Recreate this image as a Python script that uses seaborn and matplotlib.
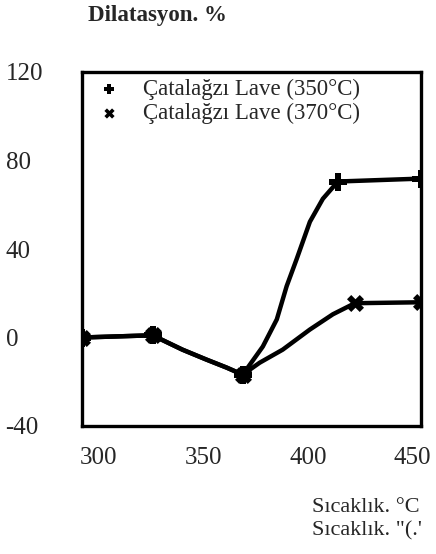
# -*- coding: utf-8 -*-
# Dilatasyon vs sicaklik, Catalagzi lave (350 / 370 C)

import pandas as pd
import matplotlib
matplotlib.use("Agg")
import matplotlib.pyplot as plt
import seaborn as sns

# traced curve points
temp_350 = [292.1, 325.7, 340.0, 351.5, 361.1, 368.8, 378.4, 385.1, 389.8,
            394.6, 400.9, 407.1, 414.3, 453.5]
dil_350 = [0.0, 1.0, -5.5, -10.0, -13.6, -16.8, -4.1, 8.2, 23.2,
           35.5, 52.3, 62.7, 70.5, 71.8]

temp_370 = [292.1, 325.7, 340.0, 351.5, 361.1, 368.8, 376.9, 387.9, 400.9,
            411.9, 422.4, 452.1]
dil_370 = [0.0, 1.0, -5.5, -10.0, -13.6, -16.8, -11.4, -5.5, 3.6,
           10.5, 15.5, 15.9]

# measured points (markers)
mark_t_350 = [292.1, 325.7, 368.8, 414.3, 454.0]
mark_d_350 = [0.0, 1.0, -16.8, 70.5, 71.8]
mark_t_370 = [292.1, 325.7, 368.8, 422.4, 454.0]
mark_d_370 = [0.0, 1.0, -16.8, 15.5, 15.9]

labels = ["Çatalağzı Lave (350°C)", "Çatalağzı Lave (370°C)"]
xticks = [300, 350, 400, 450]
yticks = [-40, 0, 40, 80, 120]

sns.set_style("white")
plt.rcParams['font.family'] = ['Liberation Serif', 'DejaVu Serif']
plt.rcParams['axes.unicode_minus'] = False

df350 = pd.DataFrame({"t": temp_350, "d": dil_350})
df370 = pd.DataFrame({"t": temp_370, "d": dil_370})
m350 = pd.DataFrame({"t": mark_t_350, "d": mark_d_350})
m370 = pd.DataFrame({"t": mark_t_370, "d": mark_d_370})

fig = plt.figure(figsize=(4.36, 5.54), dpi=100)
ax = fig.add_axes([82 / 436, 1 - 426 / 554, 339 / 436, 354 / 554])

sns.lineplot(data=df350, x="t", y="d", ax=ax, color="black", lw=3.2, sort=False)
sns.lineplot(data=df370, x="t", y="d", ax=ax, color="black", lw=3.2, sort=False)
sns.scatterplot(data=m350, x="t", y="d", ax=ax, marker="P", s=150,
                color="black", linewidth=0, label=labels[0], zorder=5)
sns.scatterplot(data=m370, x="t", y="d", ax=ax, marker="X", s=150,
                color="black", linewidth=0, label=labels[1], zorder=5)

ax.set_xlim(292, 454)
ax.set_ylim(-40, 120)
ax.set_xticks(xticks)
ax.set_yticks(yticks)
ax.set_xlabel("")
ax.set_ylabel("")
for s in ax.spines.values():
    s.set_linewidth(2.4)
    s.set_color("black")

ax.tick_params(axis="y", length=4, width=1, direction="out", pad=51,
               labelsize=18)
ax.tick_params(axis="x", length=0, pad=15, labelsize=18)
for lab in ax.get_yticklabels():
    lab.set_horizontalalignment("left")

leg = ax.legend(loc="upper left", bbox_to_anchor=(0.047, 0.98), frameon=False,
                fontsize=16.5, handletextpad=1.0, handlelength=0.95,
                labelspacing=0.12, markerscale=0.6, borderaxespad=0,
                borderpad=0)

fig.text(88 / 436, 1 - 15 / 554, "Dilatasyon. %", fontsize=16.5,
         fontweight="bold", va="center", ha="left")
fig.text(312 / 436, 1 - 508 / 554, "Sıcaklık. °C", fontsize=16,
         va="center", ha="left")
fig.text(312 / 436, 1 - 531 / 554, "Sıcaklık. \"(.'", fontsize=16,
         va="center", ha="left")

plt.savefig("out.png", dpi=100)
